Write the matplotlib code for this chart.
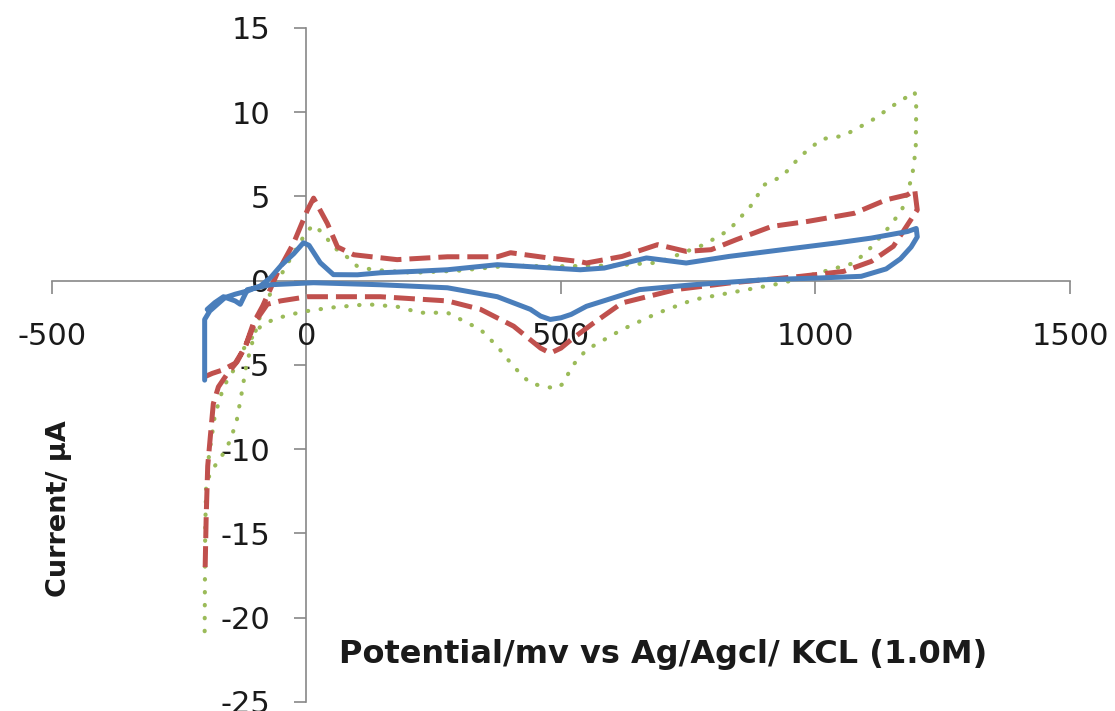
import matplotlib
matplotlib.use("Agg")
import matplotlib.pyplot as plt

# === Data (potential in mV, current in uA) ===
# blue solid
blue_x = [-200, -200, -190, -175, -160, -140, -115, -90, -70, -50, -25, -6, 5, 27, 53,
          100, 145, 210, 277, 375, 430, 473, 538, 585, 668, 746, 830, 935, 1041, 1110, 1181, 1198,
          1200, 1188, 1167, 1139, 1090, 1006, 900, 760, 654, 550, 520, 500, 479, 460, 440,
          375, 277, 145, 14, -71, -116, -130, -140, -163, -180, -195]
blue_y = [-5.9, -2.3, -1.8, -1.4, -1.0, -0.8, -0.6, -0.3, 0.2, 0.9, 1.6, 2.25, 2.1, 1.07, 0.36,
          0.35, 0.47, 0.55, 0.65, 0.95, 0.85, 0.77, 0.65, 0.75, 1.35, 1.05, 1.44, 1.84, 2.24, 2.53, 2.92, 3.1,
          2.6, 2.0, 1.3, 0.7, 0.26, 0.16, 0.06, -0.24, -0.53, -1.52, -2.0, -2.2, -2.3, -2.1, -1.7,
          -0.95, -0.42, -0.24, -0.12, -0.24, -0.53, -1.4, -1.2, -0.95, -1.3, -1.7]

# red dashed
red_x = [-199, -197, -194, -189, -183, -173, -155, -136, -120, -104, -86, -71, -57, -25, 2, 14,
         41, 61, 93, 178, 277, 375, 401, 473, 538, 550, 620, 690, 746, 795, 844, 914, 985, 1076,
         1139, 1181, 1195, 1200, 1174, 1153, 1110, 1055, 971, 830, 725, 620, 560, 520, 500, 479,
         460, 407, 342, 277, 145, 2, -51, -77, -100, -120, -140, -165, -185, -200]
red_y = [-17.0, -14.0, -11.0, -9.3, -7.3, -6.3, -5.5, -4.8, -3.9, -2.5, -1.5, -0.5, 0.47, 2.25, 4.2, 4.9,
         3.4, 2.0, 1.54, 1.25, 1.42, 1.42, 1.66, 1.36, 1.13, 1.05, 1.44, 2.14, 1.74, 1.84, 2.43, 3.22, 3.52, 4.0,
         4.8, 5.1, 5.4, 4.2, 3.0, 2.04, 1.15, 0.55, 0.26, -0.14, -0.53, -1.32, -2.6, -3.5, -4.0, -4.3,
         -4.0, -2.7, -1.7, -1.2, -0.95, -0.95, -1.2, -1.4, -2.4, -3.9, -4.9, -5.3, -5.5, -5.7]

# green dotted
green_x = [-200, -199, -197, -185, -168, -150, -137, -128, -118, -105, -90, -70, -45, -20, 0, 14,
           33, 53, 80, 100, 130, 210, 300, 400, 480, 600, 690, 781, 830, 872, 900, 935, 971, 1012,
           1055, 1110, 1153, 1195, 1198, 1197, 1190, 1170, 1145, 1110, 1076, 1006, 935, 830, 760,
           690, 620, 550, 521, 505, 490, 473, 440, 407, 375, 342, 277, 224, 178, 120, 47, 2, -31,
           -65, -90, -110, -130, -143, -163, -180, -192]
green_y = [-20.8, -15.0, -12.0, -11.2, -10.5, -9.5, -8.3, -6.8, -5.0, -3.5, -2.0, -0.7, 0.6, 1.9, 2.9, 3.3,
           2.8, 2.0, 1.4, 0.85, 0.65, 0.47, 0.6, 0.9, 0.85, 0.9, 1.07, 2.14, 3.0, 4.4, 5.7, 6.2, 7.4, 8.4,
           8.6, 9.5, 10.4, 11.2, 10.3, 7.8, 6.2, 4.2, 3.2, 2.0, 1.05, 0.46, -0.14, -0.73, -1.13,
           -1.92, -2.9, -4.1, -5.1, -6.1, -6.4, -6.3, -6.1, -5.1, -3.9, -2.9, -1.9, -1.9, -1.54, -1.4, -1.6, -1.8, -2.0,
           -2.3, -2.7, -3.5, -4.3, -5.3, -6.3, -8.0, -10.5]

x_ticks = [-500, 0, 500, 1000, 1500]
y_ticks = [-25, -20, -15, -10, -5, 0, 5, 10, 15]

plt.rcParams['font.family'] = ['DejaVu Sans']
plt.rcParams['axes.unicode_minus'] = False

fig = plt.figure(figsize=(11.15, 7.11), dpi=100)
ax = fig.add_axes([0.0466, 0.0127, 0.913, 0.948])

ax.plot(green_x, green_y, color='#9bbb59', lw=3.0, linestyle=(0, (0.1, 3.0)),
        dash_capstyle='round', zorder=2)
ax.plot(red_x, red_y, color='#c0504d', lw=3.6, linestyle=(0, (4.2, 1.6)), zorder=3)
ax.plot(blue_x, blue_y, color='#4a7ebb', lw=3.6, solid_capstyle='round', zorder=4)

ax.set_xlim(-500, 1500)
ax.set_ylim(-25, 15)
ax.set_xticks(x_ticks)
ax.set_yticks(y_ticks)

# excel style axes crossing at the origin
ax.spines['left'].set_position(('data', 0))
ax.spines['bottom'].set_position(('data', 0))
ax.spines['right'].set_visible(False)
ax.spines['top'].set_visible(False)
for s in ['left', 'bottom']:
    ax.spines[s].set_color('#888888')
    ax.spines[s].set_linewidth(1.2)
    ax.spines[s].set_zorder(1)

ax.tick_params(axis='both', direction='out', length=9, width=1.2, color='#888888',
               labelsize=22, labelcolor='#1a1a1a')
ax.tick_params(axis='y', pad=17)
ax.tick_params(axis='x', pad=21)

fig.text(0.595, 0.08, 'Potential/mv vs Ag/Agcl/ KCL (1.0M)', fontsize=23,
         fontweight='bold', ha='center', va='center', color='#1a1a1a')
fig.text(0.053, 0.285, 'Current/ µA', fontsize=19.5, fontweight='bold', rotation=90,
         ha='center', va='center', color='#1a1a1a')

fig.savefig('out.png', dpi=100)
